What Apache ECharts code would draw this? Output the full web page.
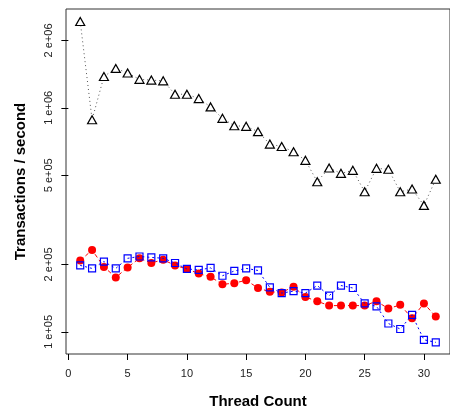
<!DOCTYPE html>
<html>
<head>
<meta charset="utf-8">
<script src="https://cdn.jsdelivr.net/npm/echarts@6/dist/echarts.min.js"></script>
<style>
html,body{margin:0;padding:0;background:#fff;}
#chart{width:450px;height:414px;}
</style>
</head>
<body>
<div id="chart"></div>
<script>
// ---- data ----
var threads = [1,2,3,4,5,6,7,8,9,10,11,12,13,14,15,16,17,18,19,20,21,22,23,24,25,26,27,28,29,30,31];
var seriesTriangle = [2.43e6,8.85e5,1.38e6,1.50e6,1.43e6,1.34e6,1.33e6,1.32e6,1.15e6,1.15e6,1.10e6,1.01e6,8.98e5,8.32e5,8.27e5,7.83e5,6.89e5,6.72e5,6.37e5,5.83e5,4.68e5,5.39e5,5.10e5,5.26e5,4.22e5,5.37e5,5.32e5,4.22e5,4.34e5,3.67e5,4.80e5];
var seriesRed = [2.08e5,2.32e5,1.95e5,1.75e5,1.94e5,2.13e5,2.03e5,2.10e5,1.98e5,1.91e5,1.82e5,1.76e5,1.63e5,1.65e5,1.70e5,1.57e5,1.51e5,1.50e5,1.59e5,1.43e5,1.37e5,1.31e5,1.31e5,1.31e5,1.31e5,1.37e5,1.27e5,1.32e5,1.15e5,1.34e5,1.17e5];
var seriesBlue = [1.98e5,1.92e5,2.06e5,1.92e5,2.13e5,2.17e5,2.15e5,2.13e5,2.03e5,1.91e5,1.89e5,1.93e5,1.78e5,1.87e5,1.92e5,1.88e5,1.58e5,1.49e5,1.52e5,1.49e5,1.61e5,1.45e5,1.61e5,1.57e5,1.34e5,1.30e5,1.09e5,1.03e5,1.19e5,9.22e4,8.98e4];
var xTicks = [0,5,10,15,20,25,30];
var yTicks = [1e5,2e5,5e5,1e6,2e6];
var yTickLabels = ['1 e+05','2 e+05','5 e+05','1 e+06','2 e+06'];
var xTitle = 'Thread Count';
var yTitle = 'Transactions / second';

function pairs(xs, ys){ return xs.map(function(x,i){ return [x, ys[i]]; }); }

var FONT = 'Liberation Sans, Arial, Helvetica, sans-serif';
var chart = echarts.init(document.getElementById('chart'), null, {renderer:'canvas'});
chart.setOption({
  animation:false,
  backgroundColor:'#fff',
  grid:{left:66, top:9, width:388, height:349, show:true, borderColor:'#333', borderWidth:1, backgroundColor:'transparent'},
  xAxis:{
    type:'value', min:-0.2, max:32.2,
    axisLine:{show:false},
    axisTick:{show:true, length:6, lineStyle:{color:'#000', width:1}, customValues:xTicks},
    axisLabel:{show:true, customValues:xTicks, color:'#222', fontSize:11, fontFamily:FONT, margin:14},
    splitLine:{show:false},
    name:xTitle, nameLocation:'middle', nameGap:40,
    nameTextStyle:{fontSize:15, fontWeight:'bold', color:'#000', fontFamily:FONT}
  },
  yAxis:{
    type:'log', logBase:10, min:79660, max:2762000,
    axisLine:{show:false},
    axisTick:{show:true, length:7, lineStyle:{color:'#000', width:1}, customValues:yTicks},
    axisLabel:{show:true, customValues:yTicks, rotate:90, color:'#222', fontSize:11, fontFamily:FONT, margin:12,
      formatter:function(v){ var i = yTicks.findIndex(function(t){return Math.abs(t-v)/t < 1e-6;}); return i>=0 ? yTickLabels[i] : ''; }},
    splitLine:{show:false},
    name:yTitle, nameLocation:'middle', nameGap:38, nameRotate:90,
    nameTextStyle:{fontSize:15, fontWeight:'bold', color:'#000', fontFamily:FONT}
  },
  series:[
    {type:'line', data:pairs(threads, seriesTriangle), symbol:'triangle', symbolSize:[9,8],
      itemStyle:{color:'#fff', borderColor:'#000', borderWidth:1.2},
      lineStyle:{color:'#555', width:1, type:[1,3]}, z:2},
    {type:'line', data:pairs(threads, seriesRed), symbol:'circle', symbolSize:8,
      itemStyle:{color:'#ff0000', borderColor:'#ff0000', borderWidth:0},
      lineStyle:{color:'#ff0000', width:1, type:[4,3]}, z:3},
    {type:'line', data:pairs(threads, seriesBlue), symbol:'rect', symbolSize:7,
      itemStyle:{color:'rgba(255,255,255,0)', borderColor:'#0000ff', borderWidth:1.2},
      lineStyle:{color:'#0000ff', width:1, type:[2,3]}, z:4}
  ]
});
</script>
</body>
</html>
